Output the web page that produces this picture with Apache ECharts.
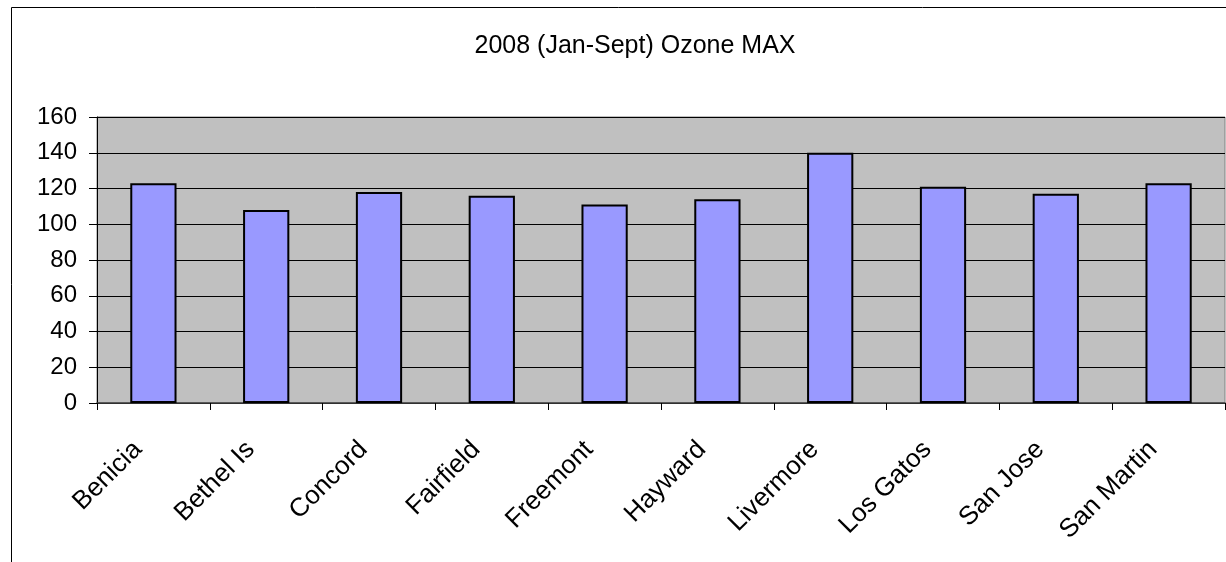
<!DOCTYPE html>
<html>
<head>
<meta charset="utf-8">
<script src="https://cdn.jsdelivr.net/npm/echarts@6/dist/echarts.min.js"></script>
<style>
html,body{margin:0;padding:0;background:#fff;}
#chart{width:1226px;height:562px;}
</style>
</head>
<body>
<div id="chart"></div>
<script>
const titleText = '2008 (Jan-Sept) Ozone MAX';
const categories = ['Benicia','Bethel Is','Concord','Fairfield','Freemont','Hayward','Livermore','Los Gatos','San Jose','San Martin'];
const ozoneMax = [123, 108, 118, 116, 111, 114, 140, 121, 117, 123];
const yTicks = [0, 20, 40, 60, 80, 100, 120, 140, 160];

const chart = echarts.init(document.getElementById('chart'), null, {renderer:'canvas'});
const font = 'Arial, "Liberation Sans", sans-serif';
chart.setOption({
  backgroundColor: '#ffffff',
  animation: false,
  title: {
    text: titleText,
    left: 630, top: 29,
    textAlign: 'center',
    textStyle: {fontFamily: font, fontSize: 25, fontWeight: 'normal', color: '#000'}
  },
  graphic: [
    {type:'line', shape:{x1:11.5, y1:7.5, x2:1226, y2:7.5}, style:{stroke:'#000', lineWidth:1}},
    {type:'line', shape:{x1:11.5, y1:7.5, x2:11.5, y2:562}, style:{stroke:'#000', lineWidth:1}}
  ],
  grid: {
    left: 97, right: 1, top: 117, bottom: 159,
    show: true, backgroundColor: '#C0C0C0', borderColor: '#808080', borderWidth: 1
  },
  xAxis: {
    type: 'category',
    data: categories,
    boundaryGap: true,
    axisLine: {show: true, lineStyle: {color: '#404040', width: 1.5}},
    axisTick: {show: true, alignWithLabel: false, length: 7, lineStyle: {color: '#000'}},
    axisLabel: {
      rotate: 45, interval: 0, margin: 27,
      fontFamily: font, fontSize: 26, color: '#000',
      padding: [0, 22, 0, 0]
    },
    splitLine: {show: false}
  },
  yAxis: {
    type: 'value',
    min: yTicks[0], max: yTicks[yTicks.length-1], interval: 20,
    axisLine: {show: true, lineStyle: {color: '#000', width: 1}},
    axisTick: {show: true, length: 8, lineStyle: {color: '#000'}},
    axisLabel: {margin: 20, fontFamily: font, fontSize: 24, color: '#000'},
    splitLine: {show: true, lineStyle: {color: '#000', width: 1}}
  },
  series: [{
    type: 'bar',
    data: ozoneMax,
    barWidth: '41%',
    itemStyle: {color: '#9999FF', borderColor: '#000', borderWidth: 2}
  }]
});
</script>
</body>
</html>
